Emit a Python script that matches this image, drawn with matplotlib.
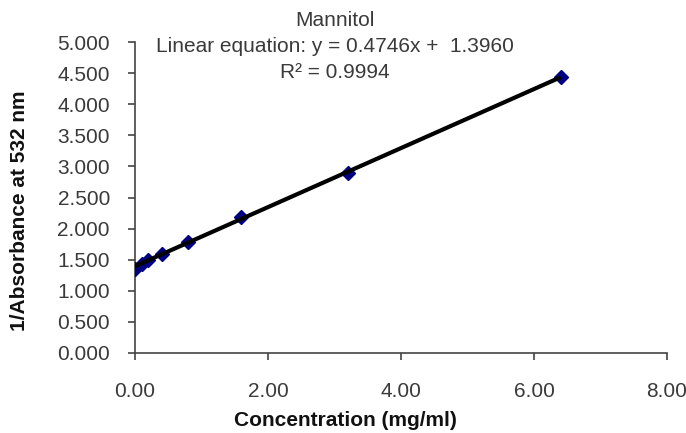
import matplotlib
matplotlib.use('Agg')
import matplotlib.pyplot as plt
from matplotlib.ticker import FormatStrFormatter

plt.rcParams['font.family'] = ['Liberation Sans', 'DejaVu Sans']

# Mannitol standard curve
conc = [0.0, 0.1, 0.2, 0.4, 0.8, 1.6, 3.2, 6.4]                 # mg/ml
inv_abs = [1.35, 1.43, 1.49, 1.59, 1.78, 2.18, 2.89, 4.44]       # 1/A532
slope = 0.4746
intercept = 1.3960
r2 = 0.9994

x_ticks = [0.0, 2.0, 4.0, 6.0, 8.0]
y_ticks = [0.0, 0.5, 1.0, 1.5, 2.0, 2.5, 3.0, 3.5, 4.0, 4.5, 5.0]

fs = 15

fig = plt.figure(figsize=(6.86, 4.33), dpi=100)
ax = fig.add_axes([135/686, 1 - 353/433, 532/686, 311/433])

ax.plot(conc, inv_abs, linestyle='none', marker='D', markersize=7,
        color='#000080', zorder=3)
fit_x = [conc[0], conc[-1]]
fit_y = [slope*v + intercept for v in fit_x]
ax.plot(fit_x, fit_y, color='black', linewidth=3.0, zorder=4,
        solid_capstyle='butt')

ax.set_xlim(0, 8)
ax.set_ylim(0, 5)
ax.set_xticks(x_ticks)
ax.set_yticks(y_ticks)
ax.xaxis.set_major_formatter(FormatStrFormatter('%.2f'))
ax.yaxis.set_major_formatter(FormatStrFormatter('%.3f'))

for s in ['top', 'right']:
    ax.spines[s].set_visible(False)
for s in ['left', 'bottom']:
    ax.spines[s].set_color('#444444')
    ax.spines[s].set_linewidth(1.2)
ax.tick_params(axis='both', direction='out', length=5, width=1.2,
               color='#444444', labelsize=fs, labelcolor='#3a3a3a')
ax.tick_params(axis='x', pad=16)
ax.tick_params(axis='y', pad=13)
for lab in ax.get_xticklabels() + ax.get_yticklabels():
    lab.set_clip_on(False)

cx = 335/686
fig.text(cx, 1 - 20/433, 'Mannitol', ha='center', va='center',
         fontsize=fs, color='#3a3a3a')
fig.text(cx, 1 - 46/433,
         'Linear equation: y = %.4fx +  %.4f' % (slope, intercept),
         ha='center', va='center', fontsize=fs, color='#3a3a3a')
fig.text(cx, 1 - 72/433, 'R² = %.4f' % r2, ha='center', va='center',
         fontsize=fs, color='#3a3a3a')

fig.text(345/686, 1 - 421/433, 'Concentration (mg/ml)', ha='center',
         va='center', fontsize=fs, fontweight='bold', color='#111111')
fig.text(20/686, 1 - 211/433, '1/Absorbance at 532 nm', ha='center',
         va='center', rotation=90, fontsize=fs, fontweight='bold',
         color='#111111')

fig.savefig('out.png', dpi=100)
